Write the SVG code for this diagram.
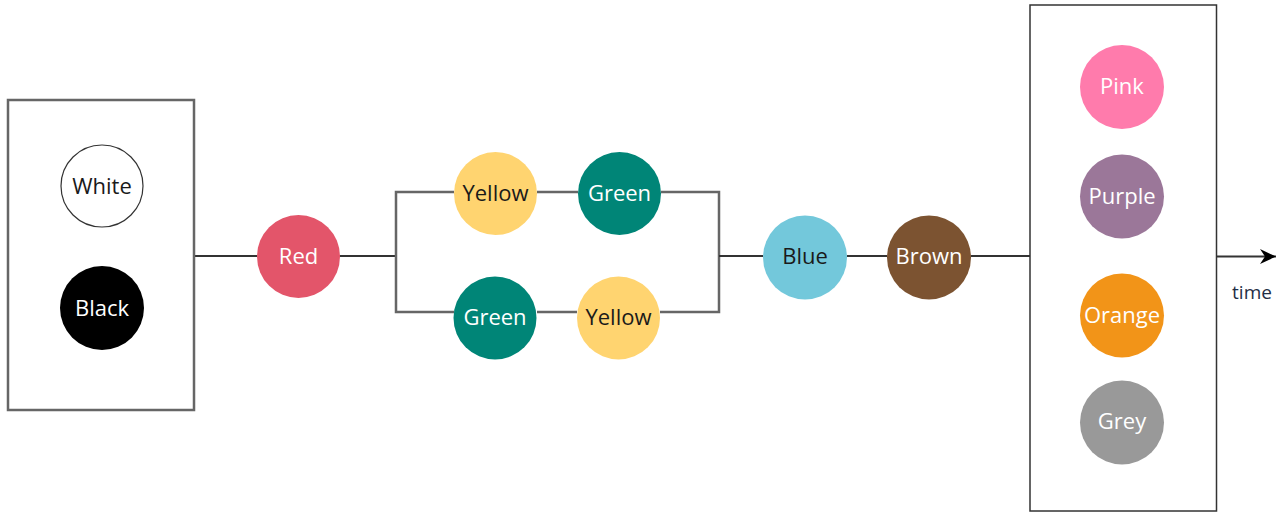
<svg xmlns="http://www.w3.org/2000/svg" width="1276" height="513" viewBox="0 0 1276 513">
<style>
.box{fill:#fff;stroke:#666;stroke-width:2.5}
.box2{fill:#fff;stroke:#333;stroke-width:1.5}
.ln{fill:none;stroke:#333;stroke-width:2}
.br{fill:none;stroke:#666;stroke-width:2.5}
text{font-family:"Open Sans","Liberation Sans",sans-serif;font-size:22px;text-anchor:middle;dominant-baseline:central}
.lt{fill:#fff}
.dk{fill:#1a1a1a}
</style>
<defs>
<marker id="arr" markerWidth="20" markerHeight="20" refX="16" refY="10" orient="auto" markerUnits="userSpaceOnUse">
<path d="M0,2.5 L16,10 L0,17.5 L5,10 Z" fill="#000"/>
</marker>
</defs>
<g id="connectors">
<path class="ln" d="M194,256 H257"/>
<path class="ln" d="M340,256 H396"/>
<path class="br" d="M454,192 H396 V312 H454"/>
<path class="br" d="M537,192 H578"/>
<path class="br" d="M661,192 H719 V312 H660"/>
<path class="br" d="M537,312 H577"/>
<path class="ln" d="M719,256 H763"/>
<path class="ln" d="M847,256 H887"/>
<path class="ln" d="M971,256 H1030"/>
<path class="ln" d="M1217,256.5 H1276" marker-end="url(#arr)"/>
</g>
<g id="start-box">
<rect class="box" x="8" y="100" width="186" height="310"/>
</g>
<g id="end-box">
<rect class="box2" x="1030" y="5" width="186.5" height="506"/>
</g>
<g id="white"><circle cx="102" cy="186" r="41" fill="#fff" stroke="#333" stroke-width="1.2"/><text class="dk" x="102" y="185">White</text></g>
<g id="black"><circle cx="102" cy="308" r="42" fill="#000"/><text class="lt" x="102" y="307">Black</text></g>
<g id="red"><circle cx="298.5" cy="256.5" r="41.5" fill="#E3556A"/><text class="lt" x="298.5" y="255">Red</text></g>
<g id="yellow1"><circle cx="495.5" cy="193.5" r="41.5" fill="#FFD470"/><text class="dk" x="495.5" y="191.5">Yellow</text></g>
<g id="green1"><circle cx="619.5" cy="193.5" r="41.5" fill="#008577"/><text class="lt" x="619.5" y="191.5">Green</text></g>
<g id="green2"><circle cx="495" cy="318" r="41.5" fill="#008577"/><text class="lt" x="495" y="315.5">Green</text></g>
<g id="yellow2"><circle cx="618.5" cy="318" r="41.5" fill="#FFD470"/><text class="dk" x="618.5" y="315.5">Yellow</text></g>
<g id="blue"><circle cx="805" cy="257.5" r="42" fill="#73C8DB"/><text class="dk" x="805" y="255">Blue</text></g>
<g id="brown"><circle cx="929" cy="257.5" r="42" fill="#7C5331"/><text class="lt" x="929" y="255">Brown</text></g>
<g id="pink"><circle cx="1122" cy="87" r="42" fill="#FF7BAC"/><text class="lt" x="1122" y="84.5">Pink</text></g>
<g id="purple"><circle cx="1122" cy="196.5" r="42" fill="#9B7799"/><text class="lt" x="1122" y="194.5">Purple</text></g>
<g id="orange"><circle cx="1122" cy="315.5" r="42" fill="#F29418"/><text class="lt" x="1122" y="313.5">Orange</text></g>
<g id="grey"><circle cx="1122" cy="422.5" r="42" fill="#999999"/><text class="lt" x="1122" y="419.5">Grey</text></g>
<g id="time-label"><text x="1252" y="292" style="font-size:19px;fill:#1f2e45">time</text></g>
</svg>
